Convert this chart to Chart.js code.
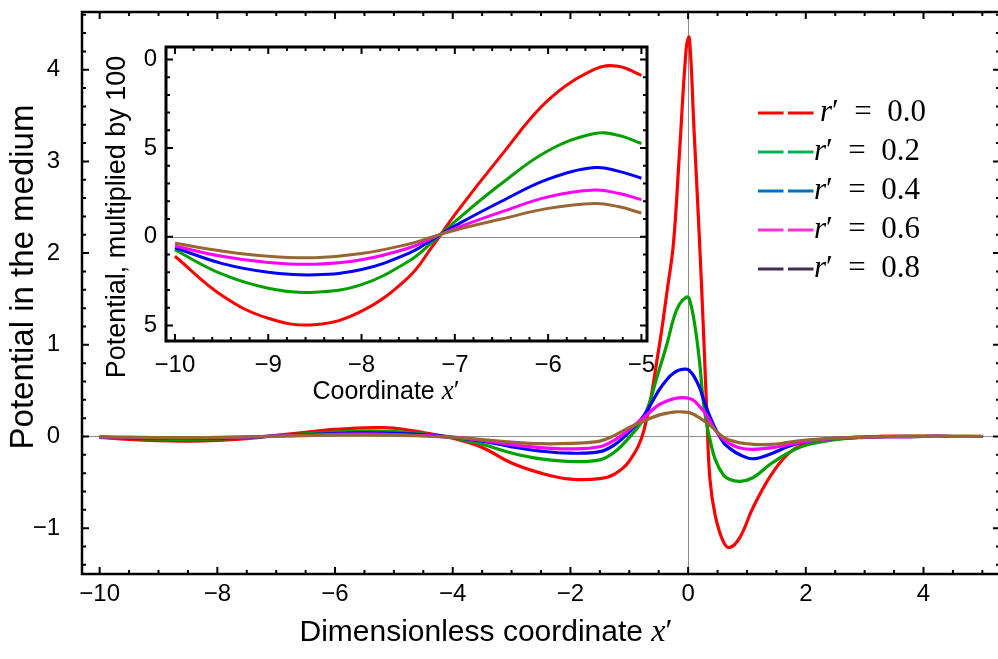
<!DOCTYPE html>
<html>
<head>
<meta charset="utf-8">
<script src="https://cdn.jsdelivr.net/npm/chart.js@4.4.1/dist/chart.umd.min.js"></script>
<style>
  html, body { margin: 0; padding: 0; background: #fff; overflow: hidden; width: 998px; height: 659px; }
  #main { position: absolute; left: 0; top: 0; }
  #inset { position: absolute; left: 95px; top: 40px; }
</style>
</head>
<body>
<canvas id="main" width="1002" height="659"></canvas>
<canvas id="inset" width="600" height="380"></canvas>
<script>
// x' sample positions shared by every curve
const xs = [-10, -9.5, -9, -8.5, -8, -7.5, -7.25, -7, -6.5, -6, -5.5, -5.25, -5,
  -4.5, -4, -3.5, -3, -2.5, -2, -1.5, -1.25, -1, -0.75, -0.5, -0.35, -0.25, -0.15, -0.03,
  0.02, 0.1, 0.19, 0.26, 0.32, 0.37, 0.46, 0.6, 0.71, 0.88,
  1.1, 1.4, 1.7, 2, 2.5, 3, 3.5, 4, 4.5, 5];

// potential for r' = 0.0 ... 0.8
const potR00 = [-0.011, -0.033, -0.046, -0.0496, -0.042, -0.023, -0.0062, 0.0125, 0.046, 0.077, 0.0945, 0.0962, 0.091,
  0.043, -0.02, -0.12, -0.29, -0.40, -0.465, -0.46, -0.41, -0.27, 0.07, 0.95, 1.62, 2.1, 3.06, 4.25,
  4.35, 3.35, 2.18, 1.17, 0.22, -0.46, -0.86, -1.15, -1.21, -1.1,
  -0.78, -0.43, -0.19, -0.08, -0.025, -0.006, 0.004, 0.004, 0.002, 0.001];
const potR02 = [-0.0075, -0.021, -0.029, -0.0313, -0.027, -0.014, -0.0035, 0.0085, 0.030, 0.0485, 0.0582, 0.0572, 0.0526,
  0.028, -0.012, -0.085, -0.18, -0.245, -0.273, -0.255, -0.17, -0.01, 0.21, 0.71, 1.03, 1.28, 1.44, 1.52,
  1.50, 1.27, 0.84, 0.37, 0.12, -0.03, -0.25, -0.42, -0.47, -0.49,
  -0.45, -0.30, -0.18, -0.095, -0.035, -0.01, 0.0, 0.001, 0.001, 0.0];
const potR04 = [-0.0062, -0.015, -0.020, -0.0215, -0.0185, -0.0095, -0.0019, 0.0061, 0.020, 0.0325, 0.039, 0.037, 0.033,
  0.018, -0.01, -0.05, -0.113, -0.16, -0.182, -0.165, -0.09, 0.05, 0.23, 0.50, 0.63, 0.69, 0.725, 0.735,
  0.72, 0.655, 0.54, 0.41, 0.30, 0.22, 0.09, -0.065, -0.13, -0.20,
  -0.243, -0.19, -0.11, -0.055, -0.02, -0.007, -0.002, 0.0, 0.0, 0.0];
const potR06 = [-0.0052, -0.011, -0.0145, -0.0155, -0.013, -0.0065, -0.0009, 0.0046, 0.014, 0.0225, 0.0263, 0.0245, 0.0209,
  0.010, -0.008, -0.042, -0.088, -0.122, -0.135, -0.112, -0.04, 0.075, 0.21, 0.345, 0.39, 0.41, 0.422, 0.422,
  0.415, 0.39, 0.33, 0.28, 0.225, 0.17, 0.07, -0.03, -0.08, -0.125,
  -0.14, -0.125, -0.09, -0.055, -0.02, -0.007, -0.002, 0.0, 0.0, 0.0];
const potR08 = [-0.0037, -0.008, -0.011, -0.0118, -0.0095, -0.0042, -0.0003, 0.0037, 0.010, 0.016, 0.0188, 0.017, 0.0134,
  0.005, -0.01, -0.033, -0.062, -0.079, -0.075, -0.05, 0.012, 0.098, 0.17, 0.233, 0.255, 0.266, 0.27, 0.265,
  0.26, 0.24, 0.205, 0.175, 0.15, 0.125, 0.07, -0.01, -0.04, -0.07,
  -0.085, -0.087, -0.065, -0.04, -0.018, -0.007, -0.002, 0.0, 0.0, 0.0];

const rPrime = ['0.0', '0.2', '0.4', '0.6', '0.8'];
const curveColors = ['#ff0000', '#00a000', '#0000ff', '#ff00ff', '#996633'];
const legendColors = ['#ff0000', '#00b050', '#0070c0', '#ff33cc', '#403152'];

const mainXTicks = [-10, -8, -6, -4, -2, 0, 2, 4];
const mainYTicks = [-1, 0, 1, 2, 3, 4];
const insetXTicks = [-10, -9, -8, -7, -6, -5];
const insetYTicks = [-5, 0, 5, 10];
const insetYTickLabels = ['5', '0', '5', '0'];

const insetCount = 13; // points with x' <= -5

const SANS = '"Liberation Sans", Arial, sans-serif';
const SERIF = '"Liberation Serif", serif';
const minus = (v) => String(v).replace('-', '\u2212');

// keep chart.js from reserving room for half tick labels
const noPad = (s) => { s.paddingTop = 0; s.paddingBottom = 0; s.paddingLeft = 0; s.paddingRight = 0; };

// zero lines, frame and inward ticks (Mathematica style)
const framePlugin = {
    id: 'frame',
    beforeDatasetsDraw(chart, args, o) {
        const { ctx, chartArea: a, scales: { x, y } } = chart;
        ctx.save();
        ctx.strokeStyle = '#8c8c8c';
        ctx.lineWidth = 1;
        ctx.beginPath();
        const y0 = Math.round(y.getPixelForValue(0)) + 0.5;
        ctx.moveTo(a.left, y0);
        ctx.lineTo(a.right, y0);
        if (o.xZero) {
            const x0 = Math.round(x.getPixelForValue(0)) + 0.5;
            ctx.moveTo(x0, a.top);
            ctx.lineTo(x0, a.bottom);
        }
        ctx.stroke();
        ctx.restore();
    },
    afterDatasetsDraw(chart, args, o) {
        const { ctx, chartArea: a, scales: { x, y } } = chart;
        ctx.save();
        ctx.strokeStyle = '#000';
        ctx.lineWidth = o.tickWidth;
        ctx.beginPath();
        const xTicks = (step, len) => {
            for (let k = Math.ceil(x.min / step - 1e-9); k * step <= x.max + 1e-9; k++) {
                const px = x.getPixelForValue(k * step);
                ctx.moveTo(px, a.bottom); ctx.lineTo(px, a.bottom - len);
                ctx.moveTo(px, a.top); ctx.lineTo(px, a.top + len);
            }
        };
        const yTicks = (step, len) => {
            for (let k = Math.ceil(y.min / step - 1e-9); k * step <= y.max + 1e-9; k++) {
                const py = y.getPixelForValue(k * step);
                ctx.moveTo(a.left, py); ctx.lineTo(a.left + len, py);
                ctx.moveTo(a.right, py); ctx.lineTo(a.right - len, py);
            }
        };
        xTicks(o.xMinor, o.minorLen);
        xTicks(o.xMajor, o.majorLen);
        yTicks(o.yMinor, o.minorLen);
        yTicks(o.yMajor, o.majorLen);
        ctx.stroke();
        ctx.lineWidth = o.frameWidth;
        ctx.strokeRect(a.left, a.top, a.right - a.left, a.bottom - a.top);
        ctx.restore();
    }
};

const whiteArea = {
    id: 'whiteArea',
    beforeDraw(chart) {
        const { ctx, chartArea: a } = chart;
        ctx.save();
        ctx.fillStyle = '#fff';
        ctx.fillRect(a.left, a.top, a.right - a.left, a.bottom - a.top);
        ctx.restore();
    }
};

// axis titles with an italic serif x'
const axisTitles = {
    id: 'axisTitles',
    afterDraw(chart, args, o) {
        const ctx = chart.ctx;
        o.items.forEach((it) => {
            const parts = [[it.text, it.size + 'px ' + SANS]];
            if (it.prime) {
                parts.push(['x', 'italic ' + (it.size + 2) + 'px ' + SERIF]);
                parts.push(['\u2032', (it.size + 2) + 'px ' + SERIF]);
            }
            let w = 0;
            parts.forEach((p) => { ctx.font = p[1]; w += ctx.measureText(p[0]).width; });
            ctx.save();
            ctx.translate(it.x, it.y);
            if (it.rotate) ctx.rotate(-Math.PI / 2);
            ctx.fillStyle = '#000';
            ctx.textBaseline = 'middle';
            let tx = -w / 2;
            parts.forEach((p) => {
                ctx.font = p[1];
                ctx.fillText(p[0], tx, 0);
                tx += ctx.measureText(p[0]).width;
            });
            ctx.restore();
        });
    }
};

// dashed-sample legend, r in italic
const dashLegend = {
    id: 'dashLegend',
    afterDraw(chart, args, o) {
        const ctx = chart.ctx;
        ctx.save();
        rPrime.forEach((r, i) => {
            const y = o.top + i * o.gap;
            ctx.strokeStyle = legendColors[i];
            ctx.lineWidth = 3;
            ctx.setLineDash([25.5, 4.5]);
            ctx.beginPath();
            ctx.moveTo(o.left, y);
            ctx.lineTo(o.left + 55.5, y);
            ctx.stroke();
            ctx.setLineDash([]);
            ctx.fillStyle = '#000';
            ctx.textBaseline = 'middle';
            let tx = o.left + 56 + (i === 0 ? 6 : 0);
            ctx.font = 'italic 31px ' + SERIF;
            ctx.fillText('r', tx, y);
            tx += ctx.measureText('r').width;
            ctx.font = '31px ' + SERIF;
            ctx.fillText('\u2032  =  ' + r, tx, y);
        });
        ctx.restore();
    }
};

const series = [potR00, potR02, potR04, potR06, potR08];

function makeDatasets(scale, count, width) {
    return series.map((vals, i) => ({
        label: "r' = " + rPrime[i],
        data: xs.slice(0, count).map((x, j) => ({ x: x, y: vals[j] * scale })),
        borderColor: curveColors[i],
        borderWidth: width,
        pointRadius: 0,
        fill: false,
        tension: 0.4,
        order: series.length - i
    }));
}

new Chart(document.getElementById('main').getContext('2d'), {
    type: 'line',
    data: { datasets: makeDatasets(1, xs.length, 3.2) },
    options: {
        responsive: false,
        animation: false,
        layout: { padding: { left: 0, top: 12, right: 2, bottom: 0 } },
        plugins: {
            legend: { display: false },
            tooltip: { enabled: false },
            frame: { xZero: true, xMajor: 2, xMinor: 0.5, yMajor: 1, yMinor: 0.2, majorLen: 7, minorLen: 4, tickWidth: 2, frameWidth: 2.5 },
            dashLegend: { left: 758, top: 113, gap: 39 },
            axisTitles: { items: [
                { text: 'Dimensionless coordinate ', prime: true, x: 486, y: 633, size: 30 },
                { text: 'Potential in the medium', prime: false, x: 24, y: 277, size: 33, rotate: true }
            ] }
        },
        scales: {
            x: {
                type: 'linear', min: -10.3, max: 5.3,
                afterFit: (s) => { s.height = 85; noPad(s); },
                afterBuildTicks: (s) => { s.ticks = mainXTicks.map(v => ({ value: v })); },
                grid: { display: false, drawTicks: false },
                border: { display: false },
                ticks: { color: '#000', font: { family: SANS, size: 24 }, padding: 6, maxRotation: 0, callback: (v) => minus(v) }
            },
            y: {
                type: 'linear', min: -1.5, max: 4.63,
                afterFit: (s) => { s.width = 82; noPad(s); },
                afterBuildTicks: (s) => { s.ticks = mainYTicks.map(v => ({ value: v })); },
                grid: { display: false, drawTicks: false },
                border: { display: false },
                ticks: { color: '#000', font: { family: SANS, size: 24 }, padding: 22, callback: (v) => minus(v) }
            }
        }
    },
    plugins: [framePlugin, dashLegend, axisTitles]
});

new Chart(document.getElementById('inset').getContext('2d'), {
    type: 'line',
    data: { datasets: makeDatasets(100, insetCount, 3) },
    options: {
        responsive: false,
        animation: false,
        layout: { padding: { left: 0, top: 7, right: 48, bottom: 0 } },
        plugins: {
            legend: { display: false },
            tooltip: { enabled: false },
            frame: { xZero: false, xMajor: 1, xMinor: 0.2, yMajor: 5, yMinor: 1, majorLen: 7, minorLen: 4, tickWidth: 2, frameWidth: 3 },
            axisTitles: { items: [
                { text: 'Coordinate ', prime: true, x: 291, y: 352, size: 25 },
                { text: 'Potential, multiplied by 100', prime: false, x: 23, y: 177, size: 27, rotate: true }
            ] }
        },
        scales: {
            x: {
                type: 'linear', min: -10.096, max: -4.94,
                afterFit: (s) => { s.height = 79; noPad(s); },
                afterBuildTicks: (s) => { s.ticks = insetXTicks.map(v => ({ value: v })); },
                grid: { display: false, drawTicks: false },
                border: { display: false },
                ticks: { color: '#000', font: { family: SANS, size: 24 }, padding: 10, maxRotation: 0, callback: (v) => minus(v) }
            },
            y: {
                type: 'linear', min: -5.88, max: 10.7,
                afterFit: (s) => { s.width = 71; noPad(s); },
                afterBuildTicks: (s) => { s.ticks = insetYTicks.map(v => ({ value: v })); },
                grid: { display: false, drawTicks: false },
                border: { display: false },
                ticks: { color: '#000', font: { family: SANS, size: 24 }, padding: 9, callback: (v, i) => insetYTickLabels[i] }
            }
        }
    },
    plugins: [whiteArea, framePlugin, axisTitles]
});
</script>
</body>
</html>
